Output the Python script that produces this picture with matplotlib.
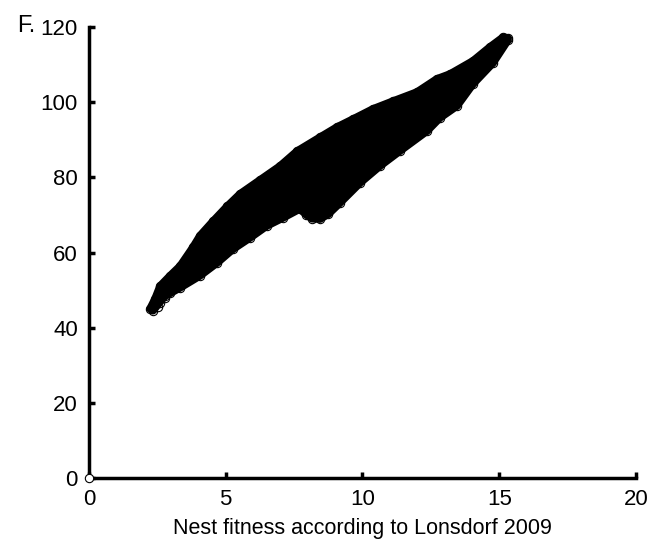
import matplotlib.pyplot as plt
import numpy as np

plt.rcParams['font.family'] = ['Liberation Sans', 'DejaVu Sans']

# outer edge of the point cloud (upper side), nest fitness vs. model value
upper_x = [2.23, 2.41, 2.60, 2.96, 3.33, 3.80, 4.06, 4.53, 5.05, 5.52, 6.25,
           6.98, 7.61, 8.45, 9.07, 9.65, 10.38, 11.12, 11.99, 12.72, 13.20,
           14.04, 14.66, 15.14, 15.32]
upper_y = [45.0, 47.6, 51.1, 53.8, 56.4, 61.4, 64.5, 68.3, 72.3, 75.6, 79.3,
           83.0, 87.0, 90.7, 93.4, 95.5, 98.2, 100.3, 102.7, 106.2, 107.5,
           111.0, 114.7, 117.3, 117.1]

# lower side, including the lobe near x=8-9
lower_x = [2.34, 2.78, 3.33, 4.06, 4.68, 5.27, 5.89, 6.51, 7.09, 7.71, 7.95,
           8.15, 8.45, 8.75, 9.18, 9.91, 10.64, 11.37, 12.36, 12.83, 13.46,
           14.04, 14.77, 15.32]
lower_y = [44.5, 48.4, 50.6, 53.8, 57.2, 60.9, 63.9, 67.1, 69.2, 71.6, 70.0,
           69.0, 68.9, 70.2, 73.2, 78.5, 83.0, 87.0, 92.3, 95.8, 99.0,
           104.8, 110.4, 116.5]

# loose points at the low end
stray_x = [2.34, 2.52, 2.60, 2.78, 2.96]
stray_y = [45.2, 45.5, 46.6, 47.9, 49.2]

# single zero-valued nest
zero_x = [0.0]
zero_y = [0.0]

fig = plt.figure(figsize=(6.65, 5.46), dpi=100)
ax = fig.add_axes([0.1338, 0.1245, 0.8226, 0.826])

poly_x = np.r_[upper_x, lower_x[::-1]]
poly_y = np.r_[upper_y, lower_y[::-1]]
ax.fill(poly_x, poly_y, facecolor='k', edgecolor='k', linewidth=5.5,
        joinstyle='round', zorder=2)

circ = dict(linestyle='none', marker='o', markersize=6, markerfacecolor='none',
            markeredgecolor='k', markeredgewidth=0.8, zorder=3)
ax.plot(upper_x, upper_y, **circ)
ax.plot(lower_x, lower_y, **circ)
ax.plot(stray_x, stray_y, **circ)
# the zero point sits on the axis corner
ax.plot(zero_x, zero_y, linestyle='none', marker='o', markersize=6,
        markerfacecolor='white', markeredgecolor='k', markeredgewidth=0.8,
        zorder=5, clip_on=False)

ax.set_xlim(0, 20)
ax.set_ylim(0, 120)
ax.set_xticks([0, 5, 10, 15, 20])
ax.set_yticks([0, 20, 40, 60, 80, 100, 120])
for s in ['top', 'right']:
    ax.spines[s].set_visible(False)
for s in ['left', 'bottom']:
    ax.spines[s].set_linewidth(2.5)
ax.tick_params(direction='in', length=4, width=2.5, labelsize=16)
ax.tick_params(axis='y', pad=8)
ax.tick_params(axis='x', pad=8)
ax.set_xlabel('Nest fitness according to Lonsdorf 2009', fontsize=15.5, labelpad=6)
fig.text(0.026, 1 - 32 / 546, 'F.', fontsize=17, va='baseline')

fig.savefig('out.png', dpi=100)
